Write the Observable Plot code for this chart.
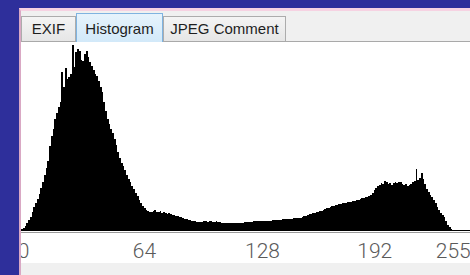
<!DOCTYPE html>
<html><head><meta charset="utf-8">
<script src="https://cdn.jsdelivr.net/npm/d3@7"></script>
<script src="https://cdn.jsdelivr.net/npm/@observablehq/plot@0.6"></script>
<style>
html,body{margin:0;padding:0;}
body{width:470px;height:275px;overflow:hidden;background:#2e2f9b;position:relative;font-family:"Liberation Sans",Arial,sans-serif;}
#panel{position:absolute;left:19px;top:8px;right:0;bottom:0;background:#f0f0f0;border-left:2px solid #d9a8c4;border-top:3px solid #f6d2e2;box-sizing:border-box;}
#strip{position:absolute;left:21px;top:41px;right:0;height:1px;background:#a9a9a9;}
.tab{position:absolute;box-sizing:border-box;border:1px solid #acacac;border-bottom:none;background:linear-gradient(#f4f4f4,#e6e6e6);font-size:15px;color:#1e1e1e;text-align:center;}
#t1{left:21px;top:16px;width:55px;height:25px;line-height:24px;}
#t2{left:76px;top:13px;width:87px;height:29px;line-height:30px;background:linear-gradient(#e6f3fc,#d2e9f9);border-color:#7fb3e0;z-index:2;}
#t3{left:163px;top:16px;width:123px;height:25px;line-height:24px;}
#white{position:absolute;left:21px;top:42px;width:449px;height:221px;background:#fff;overflow:hidden;}
#white svg{display:block;}
</style></head>
<body>
<div id="panel"></div>
<div id="strip"></div>
<div class="tab" id="t1">EXIF</div>
<div class="tab" id="t2">Histogram</div>
<div class="tab" id="t3">JPEG Comment</div>
<div id="white"></div>
<script>
const tabLabels = ["EXIF", "Histogram", "JPEG Comment"];
const counts = [
  2,3,5,8,11,14,19,24,28,32,
  37,43,49,56,63,70,85,96,103,113,
  119,125,130,160,145,164,153,155,158,187,
  165,180,183,181,172,171,178,181,175,170,
  166,162,158,156,151,145,140,130,121,113,
  108,103,99,92,86,79,73,68,65,61,
  56,52,49,45,42,38,35,31,28,25,
  23,21,20,19,19,20,21,19,19,20,
  18,19,18,17,18,17,16,16,15,15,
  14,14,13,12,12,11,11,10,10,10,
  9,9,9,9,10,10,9,10,10,9,
  9,10,9,9,8,8,8,8,8,8,
  8,8,8,8,8,8,8,9,9,9,
  9,9,10,10,10,10,10,10,10,10,
  10,10,10,11,11,11,11,11,11,12,
  12,12,12,12,12,13,13,13,13,13,
  14,15,15,16,17,17,18,18,19,19,
  20,20,21,22,23,23,24,25,25,26,
  26,27,27,28,28,28,29,29,29,30,
  30,31,31,32,33,33,34,34,35,36,
  38,41,43,45,46,48,47,50,49,47,
  48,46,48,49,48,49,49,47,46,47,
  45,46,47,49,50,62,51,53,58,52,
  47,42,39,36,34,31,28,24,21,18,
  16,14,10,6,4,2,1,1,1,1,
  1,1,1,1,1,1
];
const levels = counts.map((c, i) => i);
const startTicks = [64, 128, 192];
const endTicks = [255];
const zeroTick = [0];

const data = levels.map((v, i) => ({v, c: counts[i]}));
const axisStyle = {tickSize: 0, tickPadding: 12, fontSize: 21, fill: "#5a5a5a", fontFamily: "Roboto", fontWeight: 300, label: null};
const chart = Plot.plot({
  width: 449, height: 221,
  marginTop: 3, marginBottom: 32, marginLeft: 0, marginRight: 0,
  x: {domain: [0, 256]},
  y: {domain: [0, 187], axis: null},
  style: {background: "#fff", overflow: "hidden"},
  marks: [
    Plot.rectY(data, {x1: "v", x2: d => d.v + 1, y: "c", fill: "black", shapeRendering: "crispEdges"}),
    Plot.ruleY([0], {stroke: "#9a9a9a", dy: 1}),
    Plot.axisX({...axisStyle, ticks: startTicks, textAnchor: "start", dx: -1}),
    Plot.axisX({...axisStyle, ticks: endTicks, textAnchor: "end", dx: 2}),
    Plot.axisX({...axisStyle, ticks: zeroTick, textAnchor: "middle", dx: 2})
  ]
});
document.getElementById("white").appendChild(chart);
</script>
</body></html>
